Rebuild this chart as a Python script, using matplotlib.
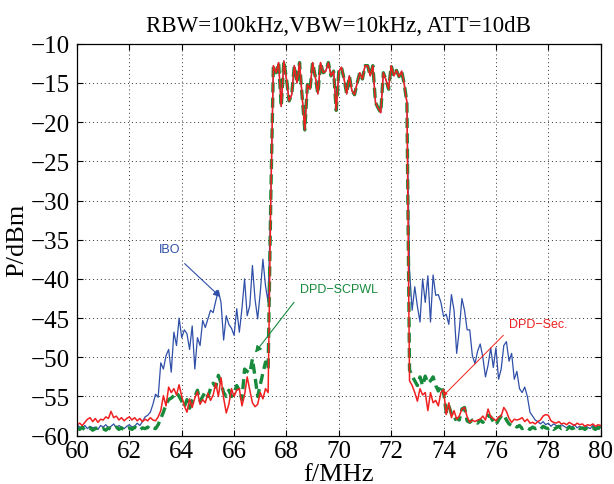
import numpy as np
import matplotlib
matplotlib.use("Agg")
import matplotlib.pyplot as plt

# frequency grid, MHz (0.1 MHz steps, 60.0 ... 80.0)
freq = np.round(np.arange(600, 801) * 0.1, 1)

# in-band part 67.4 ... 72.6, the three traces lie on top of each other here
inband = [-30.0,
          -12.8, -13.7, -12.4, -18.0, -12.2, -14.5, -17.3, -16.5, -12.8, -15.0,
          -12.4, -16.8, -21.0, -15.2, -15.8, -12.4, -14.2, -16.4, -12.4, -13.7,
          -13.5, -12.4, -14.1, -13.5, -18.5, -13.5, -13.0, -14.5, -16.4, -14.1,
          -16.0, -16.5, -15.0, -13.7, -14.5, -12.8, -12.8, -14.1, -12.8, -17.5,
          -18.2, -18.8, -13.7, -14.6, -15.8, -12.8, -14.1, -13.4, -14.2, -13.5,
          -15.2, -17.5]

# lower side 60.0 ... 67.3
ibo_low = [-58.6, -58.9, -59.0, -58.7, -59.1, -58.8, -59.0, -58.9, -59.2, -58.7,
           -58.9, -58.6, -59.0, -58.8, -58.5, -59.0, -58.7, -58.9, -59.1, -58.8,
           -58.6, -58.9, -58.8, -58.4, -58.7, -58.2, -57.6, -57.4, -57.0, -56.0,
           -54.7, -55.1, -50.7, -51.5, -49.8, -49.0, -51.9, -46.8, -48.5, -45.0,
           -47.5, -46.5, -47.0, -49.0, -46.0, -51.5, -47.5, -48.5, -45.3, -46.2,
           -45.1, -44.0, -44.3, -42.8, -41.5, -43.0, -47.8, -44.7, -45.8, -46.3,
           -47.2, -43.8, -46.8, -43.8, -40.0, -44.7, -43.4, -38.3, -42.6, -45.1,
           -41.7, -37.5, -40.9, -43.0]
scpwl_low = [-59.0, -59.2, -58.9, -59.3, -59.1, -59.0, -59.3, -59.1, -59.0, -59.2,
             -59.1, -59.3, -59.0, -59.2, -59.1, -58.9, -59.2, -59.0, -59.3, -59.1,
             -59.0, -59.2, -58.9, -59.1, -59.3, -59.0, -59.1, -58.9, -59.2, -59.0,
             -59.1, -58.6, -57.8, -57.0, -56.0, -55.4, -55.2, -54.9, -54.5, -55.0,
             -55.6, -56.3, -55.4, -56.5, -55.5, -55.0, -54.2, -55.6, -55.0, -54.4,
             -55.0, -54.0, -53.3, -53.8, -52.3, -53.3, -54.5, -55.0, -54.2, -55.0,
             -54.5, -53.6, -54.2, -55.4, -51.5, -51.8, -52.0, -50.2, -52.5, -55.0,
             -53.5, -52.0, -50.6, -51.5]
sec_low = [-58.6, -58.4, -58.7, -58.3, -57.9, -57.7, -58.2, -57.8, -58.3, -57.9,
           -58.0, -57.6, -57.8, -56.9, -57.7, -57.5, -58.0, -57.7, -58.1, -57.8,
           -57.6, -58.0, -57.7, -58.1, -57.8, -58.2, -57.9, -58.1, -57.7, -58.0,
           -58.1, -57.6, -56.8, -54.9, -56.2, -53.8, -54.5, -54.0, -54.8, -53.5,
           -55.0, -56.2, -57.0, -55.3, -56.4, -55.2, -54.4, -56.0, -55.4, -55.8,
           -54.6, -55.5, -54.8, -53.3, -55.0, -52.6, -55.2, -57.1, -56.0, -54.0,
           -55.0, -54.2, -54.0, -56.2, -54.8, -52.5, -54.2, -55.8, -56.3, -56.0,
           -54.5, -55.3, -54.0, -54.5]

# upper side 72.7 ... 80.0
ibo_up = [-39.0, -44.0, -41.0, -43.5, -45.5, -40.0, -43.0, -39.6, -45.5, -39.5,
          -42.1, -42.0, -43.0, -44.8, -44.5, -45.8, -42.0, -44.0, -49.5, -46.5,
          -42.5, -44.0, -46.5, -46.5, -49.8, -50.8, -49.2, -48.3, -50.0, -52.5,
          -51.0, -48.8, -51.3, -48.8, -52.8, -51.5, -48.5, -48.0, -50.5, -49.5,
          -52.8, -51.8, -54.0, -54.5, -53.8, -55.0, -57.0, -57.5, -58.0, -58.2,
          -58.5, -58.2, -58.6, -58.4, -58.8, -58.5, -58.7, -58.9, -58.6, -58.8,
          -59.0, -58.7, -58.9, -58.6, -59.0, -58.8, -59.1, -58.8, -58.9, -59.1,
          -58.7, -59.0, -59.2, -58.9]
scpwl_up = [-51.6, -52.4, -53.0, -53.6, -52.5, -53.6, -52.4, -53.3, -53.0, -52.5,
            -53.6, -54.3, -53.6, -54.5, -57.0, -56.2, -57.2, -58.0, -57.8, -58.0,
            -56.6, -56.4, -58.1, -58.3, -58.0, -58.2, -58.4, -58.0, -58.3, -57.9,
            -57.4, -57.6, -58.2, -58.6, -58.0, -57.5, -57.3, -58.0, -58.5, -58.7,
            -58.6, -58.9, -58.7, -59.1, -58.9, -59.0, -59.2, -58.9, -59.1, -59.0,
            -59.2, -58.8, -59.0, -59.1, -58.9, -59.2, -59.0, -58.8, -59.1, -59.0,
            -59.2, -58.9, -59.1, -59.0, -58.8, -59.1, -59.0, -59.2, -58.9, -59.1,
            -59.0, -59.2, -58.9, -59.1]
sec_up = [-53.0, -53.6, -54.5, -55.6, -54.0, -54.8, -54.5, -56.8, -54.5, -55.8,
          -55.5, -56.2, -54.5, -54.1, -57.3, -55.8, -57.7, -56.8, -57.9, -57.5,
          -56.6, -56.4, -57.6, -58.3, -58.0, -58.2, -58.0, -57.9, -57.5, -58.0,
          -56.6, -57.6, -57.8, -58.1, -57.6, -57.5, -56.4, -56.9, -57.8, -58.3,
          -57.9, -58.0, -57.9, -57.7, -58.2, -57.9, -58.4, -58.3, -58.5, -58.2,
          -58.0, -57.5, -57.3, -57.4, -58.1, -58.3, -58.4, -58.2, -58.5, -58.4,
          -58.6, -58.3, -58.5, -58.7, -58.4, -58.6, -58.5, -58.8, -58.6, -58.7,
          -58.5, -58.8, -58.6, -58.7]

ibo = np.array(ibo_low + inband + ibo_up)
scpwl = np.array(scpwl_low + inband + scpwl_up)
sec = np.array(sec_low + inband + sec_up)

c_blue = '#2f4fa8'
c_green = '#178a3c'
c_red = '#f02020'

plt.rcParams['font.family'] = ['Liberation Serif', 'DejaVu Serif']
plt.rcParams['axes.unicode_minus'] = True

fig = plt.figure(figsize=(6.14, 4.85), dpi=100)
ax = fig.add_axes([0.1254, 0.0996, 0.8529, 0.8082])

ax.plot(freq, ibo, color=c_blue, lw=0.9)
ax.plot(freq, scpwl, color=c_green, lw=2.4, ls=(0, (3, 1.6)))
ax.plot(freq, sec, color=c_red, lw=1.1)

ax.set_xlim(60, 80)
ax.set_ylim(-60, -10)
ax.set_xticks(np.arange(60, 81, 2))
ax.set_yticks(np.arange(-60, -9, 5))
ax.grid(True, ls=(0, (1, 3)), color='#303030', lw=0.7)
ax.tick_params(direction='in', top=True, right=True, labelsize=18, length=4,
               width=0.8)
ax.tick_params(axis='y', pad=5)
ax.tick_params(axis='x', pad=3)
for s in ax.spines.values():
    s.set_linewidth(0.9)

ax.set_xlabel('f/MHz', fontsize=19, labelpad=1)
ax.set_ylabel('P/dBm', fontsize=19, labelpad=2)
ax.set_title('RBW=100kHz,VBW=10kHz, ATT=10dB', fontsize=16.5, pad=9)

sans = ['Liberation Sans', 'DejaVu Sans']
ax.annotate('IBO', xy=(65.47, -42.3), xytext=(63.52, -36.2), color=c_blue,
            fontsize=9, family=sans, ha='center', va='center',
            arrowprops=dict(arrowstyle='-|>', color=c_blue, lw=0.8,
                            mutation_scale=10, shrinkA=6, shrinkB=0))
ax.annotate('DPD\u2212SCPWL', xy=(66.8, -49.4), xytext=(68.5, -41.3), color=c_green,
            fontsize=9, family=sans, ha='left', va='center',
            arrowprops=dict(arrowstyle='-|>', color=c_green, lw=0.8,
                            mutation_scale=10, shrinkA=4, shrinkB=0,
                            relpos=(0, 0)))
ax.annotate('DPD\u2212Sec.', xy=(73.99, -54.9), xytext=(76.5, -45.7), color=c_red,
            fontsize=9, family=sans, ha='left', va='center',
            arrowprops=dict(arrowstyle='-|>', color=c_red, lw=0.7,
                            mutation_scale=5, shrinkA=3, shrinkB=0,
                            relpos=(0, 0)))

fig.savefig('out.png', dpi=100)
